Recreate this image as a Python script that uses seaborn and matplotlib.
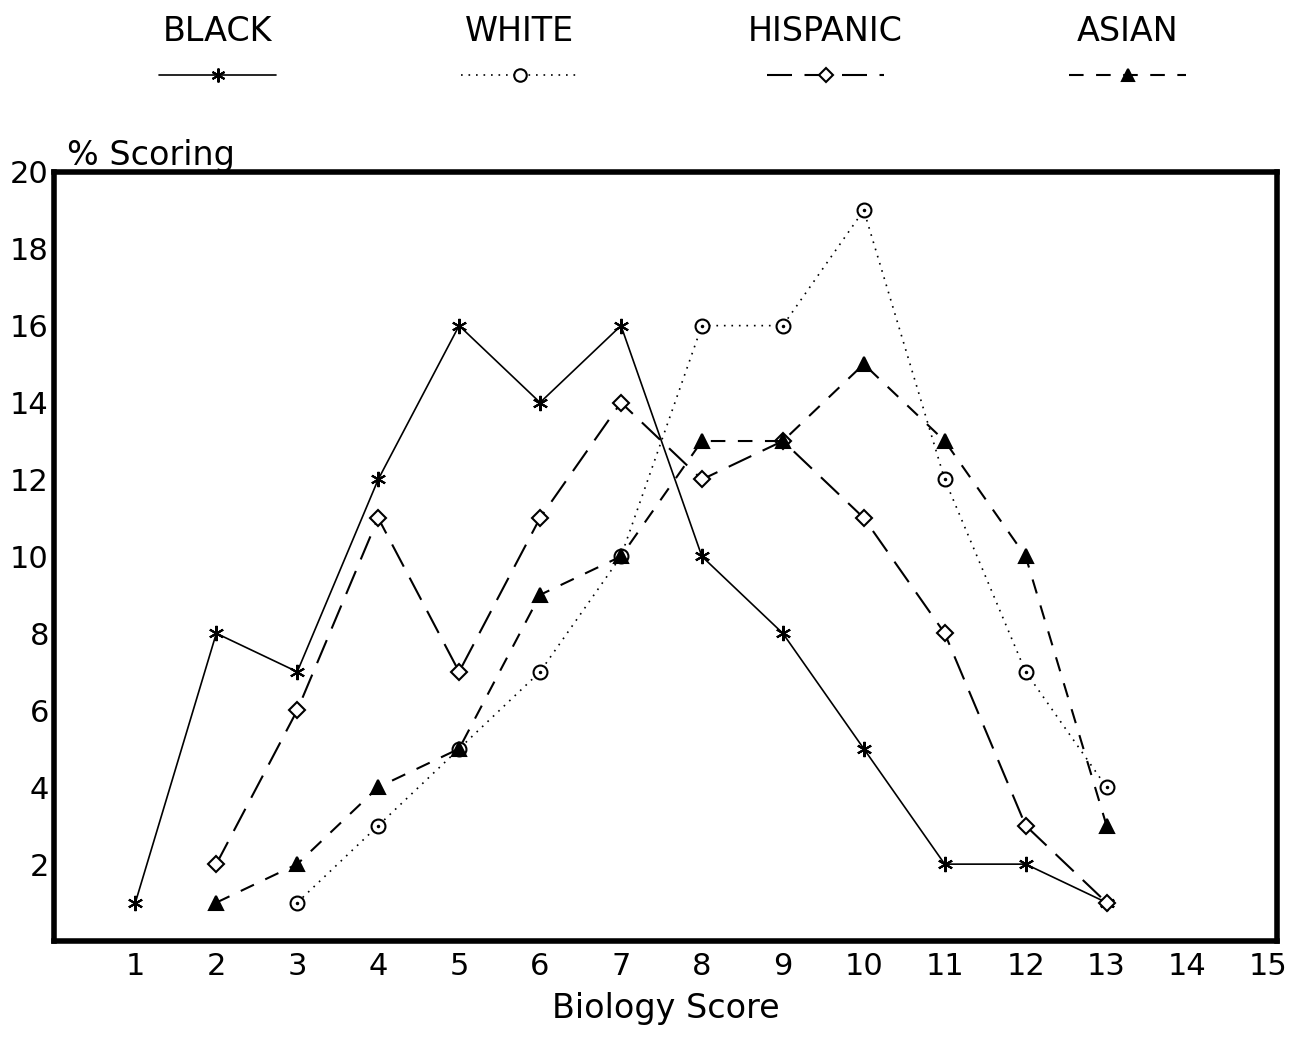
import matplotlib
matplotlib.use("Agg")
import matplotlib.pyplot as plt
from matplotlib.lines import Line2D
import seaborn as sns
import pandas as pd

# percent of students scoring each biology score, by group
black_x = [1, 2, 3, 4, 5, 6, 7, 8, 9, 10, 11, 12, 13]
black_y = [1, 8, 7, 12, 16, 14, 16, 10, 8, 5, 2, 2, 1]

white_x = [3, 4, 5, 6, 7, 8, 9, 10, 11, 12, 13]
white_y = [1, 3, 5, 7, 10, 16, 16, 19, 12, 7, 4]

hispanic_x = [2, 3, 4, 5, 6, 7, 8, 9, 10, 11, 12, 13]
hispanic_y = [2, 6, 11, 7, 11, 14, 12, 13, 11, 8, 3, 1]

asian_x = [2, 3, 4, 5, 6, 7, 8, 9, 10, 11, 12, 13]
asian_y = [1, 2, 4, 5, 9, 10, 13, 13, 15, 13, 10, 3]

groups = ["BLACK", "WHITE", "HISPANIC", "ASIAN"]

sns.set_style("white")
plt.rcParams['font.family'] = ['DejaVu Sans']
plt.rcParams['text.color'] = 'black'
plt.rcParams['axes.labelcolor'] = 'black'
plt.rcParams['xtick.color'] = 'black'
plt.rcParams['ytick.color'] = 'black'

fig = plt.figure(figsize=(12.96, 10.41), dpi=100)
ax = fig.add_axes([0.042, 0.096, 0.943, 0.739])

styles = {
    "BLACK": dict(ls="-", dashes=None, marker=(6, 2, 0), ms=11, mfc="black", lw=1.2),
    "WHITE": dict(ls=":", dashes=(1, 3.5), marker="o", ms=10, mfc="white", lw=1.2),
    "HISPANIC": dict(ls="--", dashes=(12, 6), marker="D", ms=8, mfc="white", lw=1.5),
    "ASIAN": dict(ls="--", dashes=(7, 6), marker="^", ms=10, mfc="black", lw=1.5),
}

data = {
    "BLACK": (black_x, black_y),
    "WHITE": (white_x, white_y),
    "HISPANIC": (hispanic_x, hispanic_y),
    "ASIAN": (asian_x, asian_y),
}

for g in groups:
    xs, ys = data[g]
    df = pd.DataFrame({"score": xs, "pct": ys})
    st = styles[g]
    kw = dict(color="black", lw=st["lw"], marker=st["marker"], markersize=st["ms"],
              markerfacecolor=st["mfc"], markeredgecolor="black", markeredgewidth=1.5)
    if st["dashes"] is not None:
        kw["dashes"] = st["dashes"]
    sns.lineplot(data=df, x="score", y="pct", ax=ax, **kw)
    if g == "WHITE":
        # dot inside the open circles
        ax.plot(df["score"], df["pct"], ls="none", marker=".", ms=3, color="black")

ax.set_xlim(0, 15.1)
ax.set_ylim(0, 20)
ax.set_xticks(range(1, 16))
ax.set_yticks(range(2, 21, 2))
ax.tick_params(direction="in", length=10, width=2, labelsize=22, pad=8)
ax.tick_params(axis="y", pad=4)
for s in ax.spines.values():
    s.set_linewidth(4)
    s.set_color("black")

ax.set_xlabel("Biology Score", fontsize=24, labelpad=8)
ax.set_ylabel("")
ax.text(0.01, 1.0, "% Scoring", transform=ax.transAxes, fontsize=24,
        ha="left", va="bottom")

# legend across the top: label above a sample line
label_x = [0.168, 0.401, 0.637, 0.870]
for g, lx in zip(groups, label_x):
    st = styles[g]
    fig.text(lx, 0.97, g, fontsize=24, ha="center", va="center")
    ln = Line2D([lx - 0.045, lx + 0.045], [0.928, 0.928], transform=fig.transFigure,
                color="black", lw=st["lw"], ls=st["ls"])
    if st["dashes"] is not None:
        ln.set_dashes(st["dashes"])
    fig.add_artist(ln)
    mk = Line2D([lx], [0.928], transform=fig.transFigure, ls="none",
                marker=st["marker"], markersize=st["ms"] - 1,
                markerfacecolor=st["mfc"], markeredgecolor="black", markeredgewidth=1.5)
    fig.add_artist(mk)

fig.savefig("out.png", dpi=100)
